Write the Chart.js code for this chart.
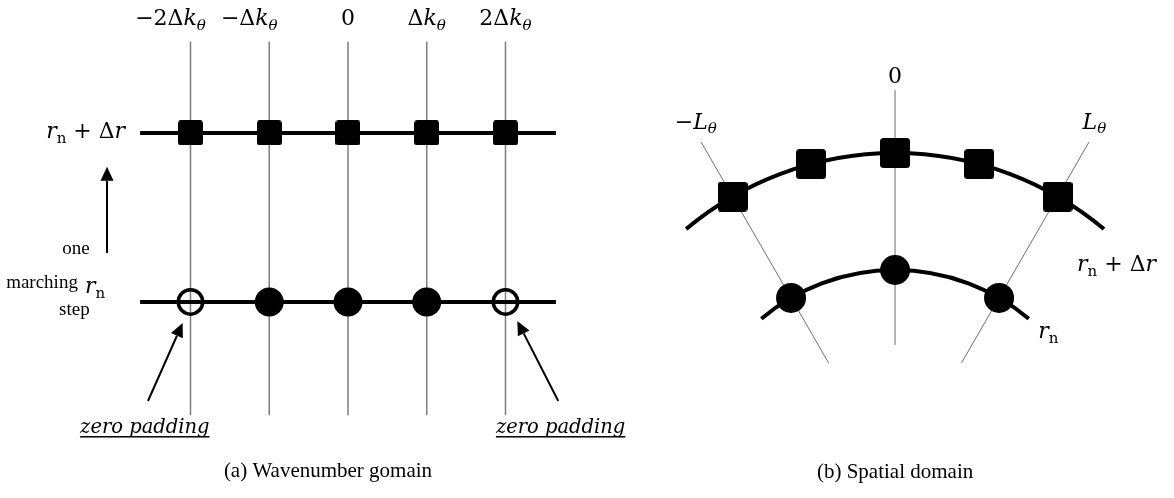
<!DOCTYPE html>
<html>
<head>
<meta charset="utf-8">
<script src="https://cdn.jsdelivr.net/npm/chart.js@4.4.1/dist/chart.umd.min.js"></script>
<style>
  html, body { margin: 0; padding: 0; background: #fff; }
  #wrap { position: relative; width: 1174px; height: 498px; }
  #wrap canvas { position: absolute; top: 0; }
  #wavenumber { left: 0; }
  #spatial { left: 587px; }
</style>
</head>
<body>
<div id="wrap">
  <canvas id="wavenumber" width="660" height="498"></canvas>
  <canvas id="spatial" width="587" height="498"></canvas>
</div>
<script>
// (a) wavenumber grid: columns are multiples of Δk_θ, rows are r_n (0) and r_n + Δr (1)
const kIndex = [-2, -1, 0, 1, 2];
const kLabels = ['−2Δk_θ', '−Δk_θ', '0', 'Δk_θ', '2Δk_θ'];
const rowLevels = [0, 1];
const rowLabels = ['r_n', 'r_n + Δr'];
const rnState = ['zero', 'field', 'field', 'field', 'zero'];

// (b) spatial grid: angles in degrees from the 0 spoke, radii relative to r_n
const spokeAngles = [-30, 0, 30];
const spokeLabels = ['−L_θ', '0', 'L_θ'];
const outerAngles = [-30, -15, 0, 15, 30];
const innerAngles = [-30, 0, 30];
const radii = [1, 1.5625];
const arcLabels = ['r_n', 'r_n + Δr'];

const GUIDE_SPAN = [-0.67, 1.54];
const ROW_HALF = 2.64;
const SPOKE_SPAN = [0.64, 1.865];
const ARC_HALF = 40;

const deg = Math.PI / 180;
const polar = (r, a) => ({ x: r * Math.sin(a * deg), y: r * Math.cos(a * deg) });

function squareMark(side, corner) {
  const c = document.createElement('canvas');
  c.width = side; c.height = side;
  const g = c.getContext('2d');
  g.fillStyle = '#000';
  g.beginPath();
  g.roundRect(0, 0, side, side, corner);
  g.fill();
  return c;
}

// math-ish labels: latin letters and θ in italic, "_" makes the next glyph a subscript
function mathRuns(str) {
  const runs = [];
  for (let i = 0; i < str.length; i++) {
    let ch = str[i], sub = false;
    if (ch === '_') { sub = true; ch = str[++i]; }
    const italic = /[A-Za-zθ]/.test(ch) && !(sub && ch === 'n');
    runs.push({ ch, sub, italic });
  }
  return runs;
}

function drawMath(ctx, str, px, py, size, align) {
  const runs = mathRuns(str);
  const fontOf = r => (r.italic ? 'italic ' : '') + (r.sub ? Math.round(size * 0.7) : size) + 'px "DejaVu Serif"';
  let total = 0;
  runs.forEach(r => { ctx.font = fontOf(r); r.w = ctx.measureText(r.ch).width; total += r.w; });
  let cx = align === 'left' ? px : align === 'right' ? px - total : px - total / 2;
  ctx.textAlign = 'left';
  ctx.textBaseline = 'alphabetic';
  ctx.fillStyle = '#000';
  const base = py + size * 0.36;
  runs.forEach(r => {
    ctx.font = fontOf(r);
    ctx.fillText(r.ch, cx, base + (r.sub ? size * 0.22 : 0));
    cx += r.w;
  });
}

function drawText(ctx, str, px, py, font, align) {
  ctx.font = font;
  ctx.textAlign = align || 'center';
  ctx.textBaseline = 'middle';
  ctx.fillStyle = '#000';
  ctx.fillText(str, px, py);
}

function arrow(ctx, x0, y0, x1, y1) {
  const a = Math.atan2(y1 - y0, x1 - x0), len = 14, half = 6.5;
  const bx = x1 - len * Math.cos(a), by = y1 - len * Math.sin(a);
  ctx.beginPath();
  ctx.moveTo(x0, y0);
  ctx.lineTo(bx, by);
  ctx.lineWidth = 2;
  ctx.strokeStyle = '#000';
  ctx.stroke();
  ctx.beginPath();
  ctx.moveTo(x1, y1);
  ctx.lineTo(bx + half * Math.sin(a), by - half * Math.cos(a));
  ctx.lineTo(bx - half * Math.sin(a), by + half * Math.cos(a));
  ctx.closePath();
  ctx.fillStyle = '#000';
  ctx.fill();
}

const hidden = (min, max) => ({ type: 'linear', display: false, bounds: 'data', min, max });
const baseOptions = (xr, yr) => ({
  responsive: false,
  animation: false,
  events: [],
  layout: { autoPadding: false, padding: 0 },
  plugins: { legend: { display: false }, tooltip: { enabled: false } },
  scales: { x: hidden(xr[0], xr[1]), y: hidden(yr[0], yr[1]) }
});

// ---------- (a) wavenumber domain ----------
const waveSets = [];
kIndex.forEach(k => waveSets.push({
  data: [{ x: k, y: GUIDE_SPAN[0] }, { x: k, y: GUIDE_SPAN[1] }],
  showLine: true, pointRadius: 0, borderColor: '#7d7d7d', borderWidth: 1.5, order: 3
}));
rowLevels.forEach(r => waveSets.push({
  data: [{ x: -ROW_HALF, y: r }, { x: ROW_HALF, y: r }],
  showLine: true, pointRadius: 0, borderColor: '#000', borderWidth: 4, order: 2
}));
waveSets.push({
  data: kIndex.map(k => ({ x: k, y: 1 })),
  pointStyle: squareMark(25, 3), pointRadius: 12, order: 0
});
waveSets.push({
  data: kIndex.filter((k, i) => rnState[i] === 'field').map(k => ({ x: k, y: 0 })),
  pointStyle: 'circle', pointRadius: 14.5, backgroundColor: '#000', borderWidth: 0, order: 0
});
waveSets.push({
  data: kIndex.filter((k, i) => rnState[i] === 'zero').map(k => ({ x: k, y: 0 })),
  pointStyle: 'circle', pointRadius: 12.2, backgroundColor: 'rgba(0,0,0,0)',
  borderColor: '#000', borderWidth: 3.5, order: 0
});

const waveNotes = {
  id: 'waveNotes',
  afterDatasetsDraw(chart) {
    const { ctx, scales: { x, y } } = chart;
    const X = v => x.getPixelForValue(v), Y = v => y.getPixelForValue(v);
    ctx.save();
    kIndex.forEach((k, i) => {
      const shift = kLabels[i].startsWith('−') ? -20 : 0;
      drawMath(ctx, kLabels[i], X(k) + shift, Y(1.686), 22, 'center');
    });
    drawMath(ctx, rowLabels[1], X(-2.83), Y(1.015), 22, 'right');
    drawMath(ctx, rowLabels[0], X(-3.34), Y(0.1), 22, 'left');
    arrow(ctx, X(-3.06), Y(0.29), X(-3.06), Y(0.80));
    const small = '19px "Liberation Serif"';
    drawText(ctx, 'one', X(-3.28), Y(0.314), small, 'right');
    drawText(ctx, 'marching', X(-3.43), Y(0.112), small, 'right');
    drawText(ctx, 'step', X(-3.28), Y(-0.047), small, 'right');
    arrow(ctx, X(-2.54), Y(-0.586), X(-2.10), Y(-0.124));
    arrow(ctx, X(2.67), Y(-0.586), X(2.15), Y(-0.112));
    [-2.58, 2.70].forEach(cx => {
      const font = 'italic 19.5px "DejaVu Serif"';
      drawText(ctx, 'zero padding', X(cx), Y(-0.746), font, 'center');
      ctx.font = font;
      const w = ctx.measureText('zero padding').width;
      ctx.fillRect(X(cx) - w / 2, Y(-0.746) + 8, w, 1.5);
    });
    drawText(ctx, '(a) Wavenumber gomain', X(-0.254), Y(-1.006), '21px "Liberation Serif"', 'center');
    ctx.restore();
  }
};

new Chart(document.getElementById('wavenumber'), {
  type: 'scatter',
  data: { datasets: waveSets },
  options: baseOptions([-4.419, 3.962], [-1.160, 1.787]),
  plugins: [waveNotes]
});

// ---------- (b) spatial domain ----------
const spaceSets = [];
spokeAngles.forEach(a => spaceSets.push({
  data: [polar(SPOKE_SPAN[0], a), polar(SPOKE_SPAN[1], a)],
  showLine: true, pointRadius: 0, borderColor: '#6e6e6e', borderWidth: 1, order: 3
}));
spaceSets.push({
  data: outerAngles.map(a => polar(radii[1], a)),
  pointStyle: squareMark(30, 3.5), pointRadius: 14, order: 0
});
spaceSets.push({
  data: innerAngles.map(a => polar(radii[0], a)),
  pointStyle: 'circle', pointRadius: 15, backgroundColor: '#000', borderWidth: 0, order: 0
});

const spaceNotes = {
  id: 'spaceNotes',
  beforeDatasetsDraw(chart) {
    const { ctx, scales: { x, y } } = chart;
    const cx = x.getPixelForValue(0), cy = y.getPixelForValue(0);
    ctx.save();
    ctx.strokeStyle = '#000';
    ctx.lineWidth = 4;
    radii.forEach(r => {
      const pr = x.getPixelForValue(r) - cx;
      ctx.beginPath();
      ctx.arc(cx, cy, pr, (-90 - ARC_HALF) * deg, (-90 + ARC_HALF) * deg);
      ctx.stroke();
    });
    ctx.restore();
  },
  afterDatasetsDraw(chart) {
    const { ctx, scales: { x, y } } = chart;
    const X = v => x.getPixelForValue(v), Y = v => y.getPixelForValue(v);
    ctx.save();
    spokeAngles.forEach((a, i) => {
      const p = polar(1.945, a);
      // the ±L labels sit a little higher than the spoke direction
      drawMath(ctx, spokeLabels[i], X(p.x) - Math.sign(a) * 3, Y(p.y) - (a ? 7 : -2), 22, 'center');
    });
    drawMath(ctx, arcLabels[1], X(0.875), Y(1.034), 22, 'left');
    drawMath(ctx, arcLabels[0], X(0.688), Y(0.712), 22, 'left');
    drawText(ctx, '(b) Spatial domain', X(0), Y(0.029), '21px "Liberation Serif"', 'center');
    ctx.restore();
  }
};

new Chart(document.getElementById('spatial'), {
  type: 'scatter',
  data: { datasets: spaceSets },
  options: baseOptions([-1.481, 1.341], [-0.096, 2.298]),
  plugins: [spaceNotes]
});
</script>
</body>
</html>
